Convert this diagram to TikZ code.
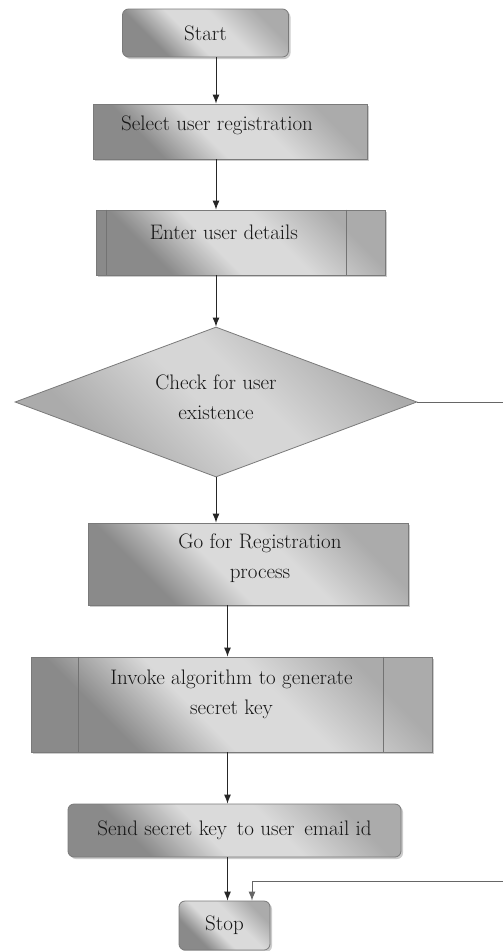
\documentclass[tikz,border=0pt]{standalone}
\usetikzlibrary{shapes.geometric,arrows.meta,shadows}
\definecolor{shd}{HTML}{8A8A8A}
\definecolor{shm}{HTML}{ABABAB}
\definecolor{shl}{HTML}{DADADA}
\definecolor{dd}{HTML}{ABABAB}
\definecolor{dl}{HTML}{D6D6D6}
\definecolor{edgec}{HTML}{7A7A7A}
\definecolor{txt}{HTML}{161616}
\pgfdeclarehorizontalshading{boxsh}{100bp}{color(0bp)=(shd); color(30bp)=(shd); color(44bp)=(shl); color(58bp)=(shl); color(74bp)=(shm); color(100bp)=(shm)}
\pgfdeclarehorizontalshading{diash}{100bp}{color(0bp)=(dd); color(30bp)=(dd); color(48bp)=(dl); color(56bp)=(dl); color(74bp)=(dd); color(100bp)=(dd)}
\begin{document}
\begin{tikzpicture}[x=1pt,y=-1pt,
  font={\fontsize{21}{30}\selectfont}, text=txt,
  box/.style={draw=edgec, line width=0.8pt, shading=boxsh, shading angle=45,
    drop shadow={shadow xshift=2pt,shadow yshift=-2pt,fill=black,opacity=0.2},
    inner sep=0pt, align=center},
  rbox/.style={box, rounded corners=6pt},
  dia/.style={diamond, draw=edgec, line width=0.8pt, shading=diash, shading angle=45,
    inner sep=0pt, align=center, aspect=2.68},
  arr/.style={draw=black!85, line width=1pt, -{Latex[length=9pt,width=7pt]}},
  retl/.style={draw=black!60, line width=1pt},
  sepl/.style={draw=black!55, line width=0.8pt}]
\useasboundingbox (0,0) rectangle (503,951);
\fill[white] (0,0) rectangle (503,951);

\node[rbox, minimum width=166pt, minimum height=48pt] (start) at (205.5,33) {Start};
\node[box, minimum width=274pt, minimum height=55pt, text depth=16pt] (sel) at (230,131.5) {Select user registration\hspace*{26pt}};
\node[box, minimum width=289pt, minimum height=65pt, text depth=20pt] (enter) at (240.5,242.5) {Enter user details\hspace*{33pt}};
\node[dia, minimum width=402pt, minimum height=150pt, text depth=10pt] (chk) at (216,402) {Check for user\\existence};
\node[box, minimum width=320pt, minimum height=82pt, text depth=16pt] (go) at (248,564) {\hspace*{24pt}Go for Registration\\\hspace*{24pt}process};
\node[box, minimum width=401pt, minimum height=95pt, text depth=24pt] (inv) at (231.5,704.5) {Invoke algorithm to generate\\secret key};
\node[rbox, minimum width=333pt, minimum height=53pt] (send) at (234.5,830.5) {Send secret key\, to user\, email id};
\node[rbox, minimum width=91pt, minimum height=49pt] (stop) at (224.5,925.5) {Stop};

\draw[sepl] ([xshift=11pt]enter.north west) -- ([xshift=11pt]enter.south west);
\draw[sepl] ([xshift=-39pt]enter.north east) -- ([xshift=-39pt]enter.south east);
\draw[sepl] ([xshift=48pt]inv.north west) -- ([xshift=48pt]inv.south west);
\draw[sepl] ([xshift=-49pt]inv.north east) -- ([xshift=-49pt]inv.south east);

\coordinate (c1) at (216,0);
\coordinate (c2) at (227.5,0);
\coordinate (c3) at (252,0);
\coordinate (r1) at (503,402);
\coordinate (r2) at (503,881);

\draw[arr] (start.south -| c1) -- (sel.north -| c1);
\draw[arr] (sel.south -| c1) -- (enter.north -| c1);
\draw[arr] (enter.south -| c1) -- (chk.north);
\draw[arr] (chk.south) -- (go.north -| c1);
\draw[arr] (go.south -| c2) -- (inv.north -| c2);
\draw[arr] (inv.south -| c2) -- (send.north -| c2);
\draw[arr] (send.south -| c2) -- (stop.north -| c2);
\draw[retl] (chk.east) -- (r1);
\draw[arr, draw=black!60] (r2) -| (stop.north -| c3);
\end{tikzpicture}
\end{document}
